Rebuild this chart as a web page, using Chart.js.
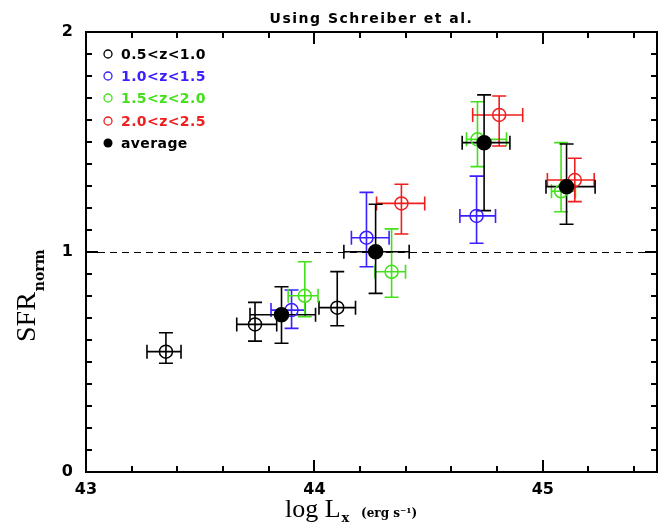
<!DOCTYPE html>
<html>
<head>
<meta charset="utf-8">
<script src="https://cdn.jsdelivr.net/npm/chart.js@4.4.1/dist/chart.umd.min.js"></script>
<style>
  html, body { margin: 0; padding: 0; background: #fff; }
  canvas { display: block; }
</style>
</head>
<body>
<canvas id="chart" width="667" height="526"></canvas>
<script>
const X_MIN = 43, X_MAX = 45.5, Y_MIN = 0, Y_MAX = 2;
const xTickLabels = [43, 44, 45];
const yTickLabels = [0, 1, 2];
const X_MINOR_STEP = 0.2, Y_MINOR_STEP = 0.1;

const seriesNames = ["0.5<z<1.0", "1.0<z<1.5", "1.5<z<2.0", "2.0<z<2.5", "average"];
const seriesColors = ["#000000", "#3a1fff", "#44e01c", "#f01e1e", "#000000"];

// 0.5<z<1.0
const z1X = [43.35, 43.74, 44.10];
const z1Y = [0.547, 0.671, 0.747];
const z1XErr = [[0.083, 0.066], [0.08, 0.095], [0.08, 0.08]];
const z1YErr = [[0.053, 0.086], [0.076, 0.10], [0.082, 0.164]];

// 1.0<z<1.5
const z2X = [43.90, 44.228, 44.71];
const z2Y = [0.736, 1.065, 1.164];
const z2XErr = [[0.09, 0.06], [0.066, 0.099], [0.073, 0.083]];
const z2YErr = [[0.083, 0.091], [0.132, 0.206], [0.124, 0.181]];

// 1.5<z<2.0
const z3X = [43.958, 44.338, 44.714, 45.08];
const z3Y = [0.801, 0.91, 1.512, 1.276];
const z3XErr = [[0.073, 0.058], [0.073, 0.061], [0.048, 0.127], [0.042, 0.063]];
const z3YErr = [[0.095, 0.155], [0.116, 0.195], [0.124, 0.171], [0.093, 0.221]];

// 2.0<z<2.5
const z4X = [44.381, 44.809, 45.14];
const z4Y = [1.221, 1.623, 1.327];
const z4XErr = [[0.109, 0.102], [0.116, 0.103], [0.12, 0.085]];
const z4YErr = [[0.139, 0.087], [0.141, 0.086], [0.098, 0.099]];

// average
const avgX = [43.856, 44.268, 44.743, 45.104];
const avgY = [0.715, 1.001, 1.497, 1.297];
const avgXErr = [[0.138, 0.149], [0.139, 0.147], [0.096, 0.113], [0.09, 0.125]];
const avgYErr = [[0.13, 0.127], [0.189, 0.216], [0.309, 0.217], [0.171, 0.194]];

const REF_LINE = 1;

function makeSet(i, xs, ys, xErr, yErr, filled) {
  return {
    label: seriesNames[i],
    data: xs.map((v, k) => ({ x: v, y: ys[k] })),
    xErr,
    yErr,
    borderColor: seriesColors[i],
    backgroundColor: filled ? seriesColors[i] : "rgba(0,0,0,0)",
    pointRadius: filled ? 7 : 6.5,
    pointBorderWidth: 1.5,
    pointStyle: "circle",
    showLine: false,
    order: filled ? 0 : 1
  };
}

const datasets = [
  makeSet(0, z1X, z1Y, z1XErr, z1YErr, false),
  makeSet(1, z2X, z2Y, z2XErr, z2YErr, false),
  makeSet(2, z3X, z3Y, z3XErr, z3YErr, false),
  makeSet(3, z4X, z4Y, z4XErr, z4YErr, false),
  makeSet(4, avgX, avgY, avgXErr, avgYErr, true)
];

const decorations = {
  id: "decorations",
  beforeDatasetsDraw(chart) {
    const { ctx, chartArea: a, scales: { x, y } } = chart;
    ctx.save();
    // dashed reference line
    ctx.strokeStyle = "#000";
    ctx.lineWidth = 1.2;
    ctx.setLineDash([7, 5]);
    const ry = Math.round(y.getPixelForValue(REF_LINE)) + 0.5;
    ctx.beginPath();
    ctx.moveTo(a.left, ry);
    ctx.lineTo(a.right, ry);
    ctx.stroke();
    ctx.setLineDash([]);

    // error bars
    const cap = 7;
    ctx.lineWidth = 1.6;
    chart.data.datasets.forEach((ds) => {
      ctx.strokeStyle = ds.borderColor;
      ds.data.forEach((p, i) => {
        const px = x.getPixelForValue(p.x), py = y.getPixelForValue(p.y);
        const x0 = x.getPixelForValue(p.x - ds.xErr[i][0]);
        const x1 = x.getPixelForValue(p.x + ds.xErr[i][1]);
        const y0 = y.getPixelForValue(p.y - ds.yErr[i][0]);
        const y1 = y.getPixelForValue(p.y + ds.yErr[i][1]);
        ctx.beginPath();
        ctx.moveTo(x0, py); ctx.lineTo(x1, py);
        ctx.moveTo(x0, py - cap); ctx.lineTo(x0, py + cap);
        ctx.moveTo(x1, py - cap); ctx.lineTo(x1, py + cap);
        ctx.moveTo(px, y0); ctx.lineTo(px, y1);
        ctx.moveTo(px - cap, y0); ctx.lineTo(px + cap, y0);
        ctx.moveTo(px - cap, y1); ctx.lineTo(px + cap, y1);
        ctx.stroke();
      });
    });
    ctx.restore();
  },
  afterDraw(chart) {
    const { ctx, chartArea: a, scales: { x, y } } = chart;
    ctx.save();
    // frame + inward ticks
    ctx.strokeStyle = "#000";
    ctx.lineWidth = 2;
    ctx.strokeRect(a.left, a.top, a.right - a.left, a.bottom - a.top);
    ctx.beginPath();
    const nx = Math.round((X_MAX - X_MIN) / X_MINOR_STEP);
    for (let k = 1; k < nx; k++) {
      const v = X_MIN + k * X_MINOR_STEP;
      const len = Math.abs(v - Math.round(v)) < 1e-6 ? 12 : 6;
      const px = Math.round(x.getPixelForValue(v));
      ctx.moveTo(px, a.bottom); ctx.lineTo(px, a.bottom - len);
      ctx.moveTo(px, a.top); ctx.lineTo(px, a.top + len);
    }
    const ny = Math.round((Y_MAX - Y_MIN) / Y_MINOR_STEP);
    for (let k = 1; k < ny; k++) {
      const v = Y_MIN + k * Y_MINOR_STEP;
      const len = Math.abs(v - Math.round(v)) < 1e-6 ? 12 : 6;
      const py = Math.round(y.getPixelForValue(v));
      ctx.moveTo(a.left, py); ctx.lineTo(a.left + len, py);
      ctx.moveTo(a.right, py); ctx.lineTo(a.right - len, py);
    }
    ctx.stroke();

    // legend
    ctx.textBaseline = "middle";
    ctx.textAlign = "left";
    ctx.font = "bold 14px 'DejaVu Sans'";
    ctx.letterSpacing = "0.4px";
    const legendY = [54, 76, 98, 121, 143];
    seriesNames.forEach((name, i) => {
      const ly = legendY[i];
      ctx.beginPath();
      ctx.arc(108, ly, i === 4 ? 4.5 : 4, 0, Math.PI * 2);
      if (i === 4) { ctx.fillStyle = seriesColors[i]; ctx.fill(); }
      else { ctx.lineWidth = 1.3; ctx.strokeStyle = seriesColors[i]; ctx.stroke(); }
      ctx.fillStyle = seriesColors[i];
      ctx.fillText(name, 121, ly + 1);
    });

    // title
    ctx.font = "bold 14px 'DejaVu Sans'";
    ctx.letterSpacing = "1.5px";
    ctx.textAlign = "center";
    ctx.textBaseline = "alphabetic";
    ctx.fillStyle = "#000";
    ctx.fillText("Using Schreiber et al.", (a.left + a.right) / 2, 23);
    ctx.letterSpacing = "0px";

    // x axis title
    ctx.textAlign = "left";
    ctx.font = "26px 'Liberation Serif'";
    ctx.fillText("log L", 285, 517);
    const lw = ctx.measureText("log L").width;
    ctx.font = "bold 13px 'DejaVu Serif'";
    ctx.fillText("x", 285 + lw + 1, 522);
    ctx.font = "bold 12px 'DejaVu Serif'";
    ctx.fillText("(erg s\u207B\u00B9)", 361, 517);

    // y axis title
    ctx.save();
    ctx.translate(35, 342);
    ctx.rotate(-Math.PI / 2);
    ctx.font = "28px 'Liberation Serif'";
    ctx.fillText("SFR", 0, 0);
    const w = ctx.measureText("SFR").width;
    ctx.font = "bold 14px 'DejaVu Serif'";
    ctx.fillText("norm", w + 1, 9);
    ctx.restore();

    ctx.restore();
  }
};

const tickFont = { family: "'DejaVu Sans'", size: 16, weight: "bold" };

new Chart(document.getElementById("chart").getContext("2d"), {
  type: "scatter",
  data: { datasets },
  options: {
    responsive: false,
    animation: false,
    layout: { padding: { top: 32, right: 10, left: 0, bottom: 0 } },
    plugins: { legend: { display: false }, tooltip: { enabled: false } },
    scales: {
      x: {
        type: "linear",
        min: X_MIN,
        max: X_MAX,
        grid: { display: false, drawTicks: false },
        border: { display: false },
        ticks: {
          stepSize: 1,
          includeBounds: false,
          maxRotation: 0,
          padding: 8,
          color: "#000",
          font: tickFont,
          callback: (v) => (xTickLabels.includes(v) ? String(v) : "")
        },
        afterFit(s) { s.height = 54; }
      },
      y: {
        type: "linear",
        min: Y_MIN,
        max: Y_MAX,
        grid: { display: false, drawTicks: false },
        border: { display: false },
        ticks: {
          stepSize: 1,
          padding: 13,
          color: "#000",
          font: tickFont,
          callback: (v) => (yTickLabels.includes(v) ? String(v) : "")
        },
        afterFit(s) { s.width = 86; }
      }
    }
  },
  plugins: [decorations]
});
</script>
</body>
</html>
